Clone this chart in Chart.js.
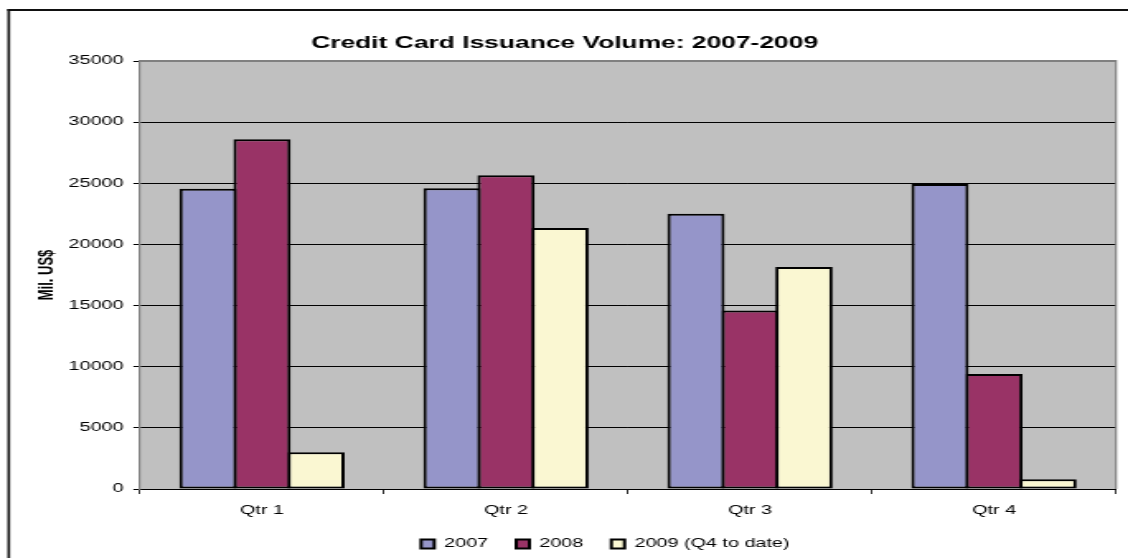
<!DOCTYPE html>
<html>
<head>
<meta charset="utf-8">
<script src="https://cdn.jsdelivr.net/npm/chart.js@4"></script>
<style>
html, body { margin: 0; padding: 0; background: #fff; overflow: hidden; }
</style>
</head>
<body>
<!-- the reference is a stretched Excel chart, so the canvas is drawn narrow and widened by CSS -->
<canvas id="graphIssuance" width="684" height="558" style="display:block;width:1128px;height:558px;"></canvas>
<script>
// Datos
const labelsQtr = ['Qtr 1', 'Qtr 2', 'Qtr 3', 'Qtr 4'];
const seriesNames = ['2007', '2008', '2009 (Q4 to date)'];
const vol2007 = [24550, 24600, 22500, 24950];
const vol2008 = [28600, 25650, 14600, 9400];
const vol2009 = [3000, 21350, 18150, 800];
const yMin = 0, yMax = 35000, yStep = 5000;

const colorsSeries = ['#9595C9', '#993366', '#FAF7D2'];

const graphIssuance = document.querySelector('#graphIssuance');

// fondo gris, marco exterior y borde del área de la gráfica
const plotFrame = {
    id: 'plotFrame',
    beforeDraw(chart) {
        const {ctx, chartArea: a} = chart;
        ctx.save();
        ctx.fillStyle = '#fff';
        ctx.fillRect(0, 0, chart.width, chart.height);
        ctx.fillStyle = '#c0c0c0';
        ctx.fillRect(a.left, a.top, a.right - a.left, a.bottom - a.top);
        ctx.fillStyle = '#111';
        ctx.fillRect(4.5, 9, 1.6, chart.height);
        ctx.fillRect(4.5, 9, chart.width, 2);
        ctx.restore();
    },
    beforeDatasetsDraw(chart) {
        const {ctx, chartArea: a} = chart;
        ctx.save();
        ctx.fillStyle = '#808080';
        ctx.fillRect(a.left, a.top - 1, a.right - a.left, 2);
        ctx.fillRect(a.right - 0.6, a.top - 1, 1.2, a.bottom - a.top + 1);
        ctx.restore();
    }
};

// mover la leyenda a donde está en el original
const legendShift = {
    id: 'legendShift',
    afterLayout(chart) {
        const lg = chart.legend;
        lg.left += 24.7; lg.right += 24.7;
        lg.top += 2; lg.bottom += 2;
    }
};

const dataIssuance = {
    labels: labelsQtr,
    datasets: [vol2007, vol2008, vol2009].map(function(vals, i) {
        return {
            label: seriesNames[i],
            data: vals,
            backgroundColor: colorsSeries[i],
            borderColor: '#000',
            borderWidth: 2,
            borderSkipped: false,
            barPercentage: 1.061,
            categoryPercentage: 0.664
        };
    })
};

const configIssuance = {
    type: 'bar',
    data: dataIssuance,
    options: {
        responsive: false,
        animation: false,
        devicePixelRatio: 1,
        layout: { padding: { left: 8, right: 7.3, top: 24, bottom: 0 } },
        font: { family: '"Liberation Sans", Arial, sans-serif' },
        plugins: {
            title: {
                display: true,
                text: 'Credit Card Issuance Volume: 2007-2009',
                color: '#000',
                font: { size: 16, weight: 'bold', family: '"Liberation Sans", Arial, sans-serif' },
                padding: { top: 10, bottom: 7.8 }
            },
            legend: {
                position: 'bottom',
                labels: {
                    boxWidth: 8,
                    boxHeight: 9,
                    padding: 17,
                    color: '#000',
                    font: { size: 12, family: '"Liberation Sans", Arial, sans-serif' }
                }
            },
            tooltip: { enabled: false }
        },
        scales: {
            x: {
                grid: { offset: true, drawOnChartArea: false, tickLength: 5, color: '#000', lineWidth: 0.8 },
                border: { color: '#000', width: 1 },
                ticks: { padding: 9, color: '#000', maxRotation: 0,
                         font: { size: 12, family: '"Liberation Sans", Arial, sans-serif' } },
                afterFit(axis) { axis.height = 30; }
            },
            y: {
                min: yMin,
                max: yMax,
                ticks: {
                    stepSize: yStep,
                    padding: 6,
                    color: '#000',
                    font: { size: 12, family: '"Liberation Sans", Arial, sans-serif' },
                    callback: function(v) { return String(v); }
                },
                grid: { color: '#000', lineWidth: 1, tickLength: 4, tickColor: '#000', tickWidth: 1 },
                border: { color: '#808080', width: 1.2 },
                title: {
                    display: true,
                    text: 'Mil. US$',
                    color: '#000',
                    font: { size: 13, weight: 'bold', family: '"Liberation Sans", Arial, sans-serif' },
                    padding: { top: 13, bottom: 0 }
                },
                afterFit(axis) { axis.width = 76.9; }
            }
        }
    },
    plugins: [plotFrame, legendShift]
};

new Chart(graphIssuance, configIssuance);
</script>
</body>
</html>
